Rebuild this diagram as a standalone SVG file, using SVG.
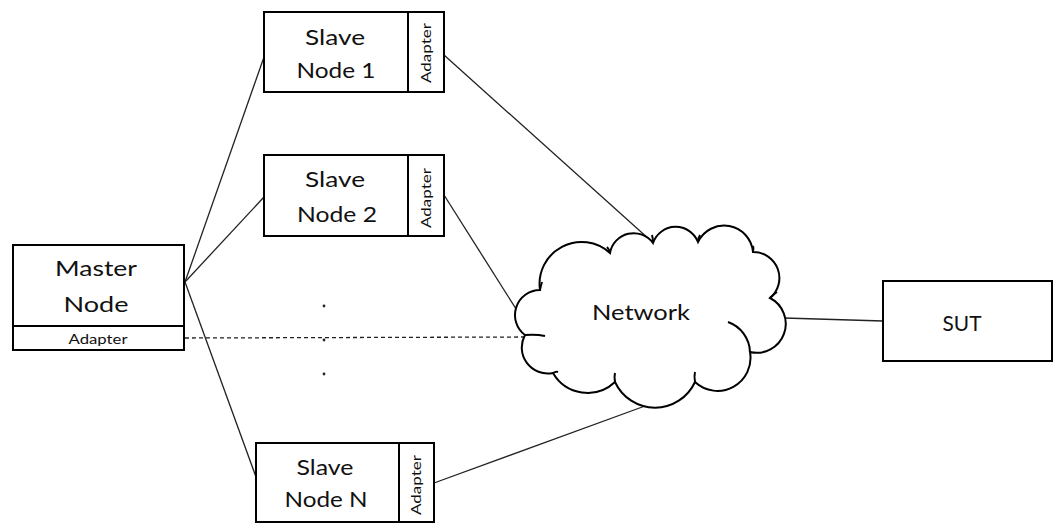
<svg xmlns="http://www.w3.org/2000/svg" width="1053" height="524" viewBox="0 0 1053 524">
<style>
.box{fill:#fff;stroke:#000;stroke-width:2}
.ln{stroke:#222;stroke-width:1.3;fill:none}
.cl{fill:#fff;stroke:#000;stroke-width:2}
.tk{fill:none;stroke:#000;stroke-width:2}
.t{font-family:Lato,"Liberation Sans",sans-serif;font-size:22px;fill:#111;text-anchor:middle}
.a{font-family:Lato,"Liberation Sans",sans-serif;font-size:13px;fill:#111;text-anchor:middle}
</style>
<rect width="1053" height="524" fill="#fff"/>
<g id="connectors">
<line class="ln" x1="185" y1="282" x2="264" y2="57"/>
<line class="ln" x1="185" y1="282" x2="264" y2="197"/>
<line class="ln" x1="185" y1="282" x2="256" y2="477"/>
<line class="ln" x1="185" y1="338" x2="525" y2="337" stroke-dasharray="4,3"/>
<line class="ln" x1="444" y1="55" x2="650" y2="240"/>
<line class="ln" x1="444" y1="195" x2="518" y2="312"/>
<line class="ln" x1="434" y1="483" x2="645" y2="406"/>
<line class="ln" x1="784" y1="318" x2="883" y2="321"/>
</g>
<g id="master">
<rect class="box" x="13" y="245" width="171" height="105"/>
<line class="box" x1="13" y1="326" x2="184" y2="326"/>
<text class="t" x="96" y="276" textLength="82" lengthAdjust="spacingAndGlyphs">Master</text>
<text class="t" x="96" y="312" textLength="65" lengthAdjust="spacingAndGlyphs">Node</text>
<text class="a" x="98" y="344" textLength="59" lengthAdjust="spacingAndGlyphs">Adapter</text>
</g>
<g id="slave1">
<rect class="box" x="264" y="12" width="180" height="80"/>
<line class="box" x1="408" y1="12" x2="408" y2="92"/>
<text class="t" x="335" y="45" textLength="60" lengthAdjust="spacingAndGlyphs">Slave</text>
<text class="t" x="336" y="78" textLength="79" lengthAdjust="spacingAndGlyphs">Node 1</text>
<text class="a" transform="translate(431,53) rotate(-90)" textLength="60" lengthAdjust="spacingAndGlyphs">Adapter</text>
</g>
<g id="slave2">
<rect class="box" x="264" y="155" width="180" height="81"/>
<line class="box" x1="408" y1="155" x2="408" y2="236"/>
<text class="t" x="335" y="187" textLength="60" lengthAdjust="spacingAndGlyphs">Slave</text>
<text class="t" x="337" y="222" textLength="80" lengthAdjust="spacingAndGlyphs">Node 2</text>
<text class="a" transform="translate(431,198) rotate(-90)" textLength="60" lengthAdjust="spacingAndGlyphs">Adapter</text>
</g>
<g id="dots">
<circle cx="324" cy="306" r="1.4" fill="#223"/>
<circle cx="324" cy="340" r="1.4" fill="#223"/>
<circle cx="324" cy="374" r="1.4" fill="#223"/>
</g>
<g id="slaveN">
<rect class="box" x="256" y="443" width="178" height="79"/>
<line class="box" x1="399" y1="443" x2="399" y2="522"/>
<text class="t" x="325" y="475" textLength="57" lengthAdjust="spacingAndGlyphs">Slave</text>
<text class="t" x="326" y="507" textLength="83" lengthAdjust="spacingAndGlyphs">Node N</text>
<text class="a" transform="translate(421,485) rotate(-90)" textLength="60" lengthAdjust="spacingAndGlyphs">Adapter</text>
</g>
<g id="network">
<path class="cl" d="M525,335 A25,25 0 0 1 540,290 A42,42 0 0 1 610,253 A24,24 0 0 1 653,243 A24,24 0 0 1 698,242 A29,29 0 0 1 753,252 A26,26 0 0 1 770,298 A29,29 0 0 1 750,352 A33,33 0 0 1 695,382 A44,44 0 0 1 615,382 A40,40 0 0 1 553,373 A26,26 0 0 1 525,335 Z"/>
<path class="tk" d="M525,335 Q536,334 545,336"/>
<path class="tk" d="M540,290 Q541,285 542,282"/>
<path class="tk" d="M610,253 Q609,249 607,247"/>
<path class="tk" d="M653,243 Q653,238 652,235"/>
<path class="tk" d="M698,242 Q698,238 700,235"/>
<path class="tk" d="M753,252 Q754,248 753,246"/>
<path class="tk" d="M770,298 Q774,294 777,292"/>
<path class="tk" d="M728,322 A33,33 0 0 1 750,352"/>
<path class="tk" d="M695,382 Q694,376 695,372"/>
<path class="tk" d="M615,382 Q614,377 615,373"/>
<path class="tk" d="M553,373 Q556,371 558,372"/>
<text class="t" x="641" y="320" textLength="98" lengthAdjust="spacingAndGlyphs">Network</text>
</g>
<g id="sut">
<rect class="box" x="883" y="281" width="169" height="80"/>
<text class="t" x="962" y="331" textLength="39" lengthAdjust="spacingAndGlyphs">SUT</text>
</g>
</svg>
